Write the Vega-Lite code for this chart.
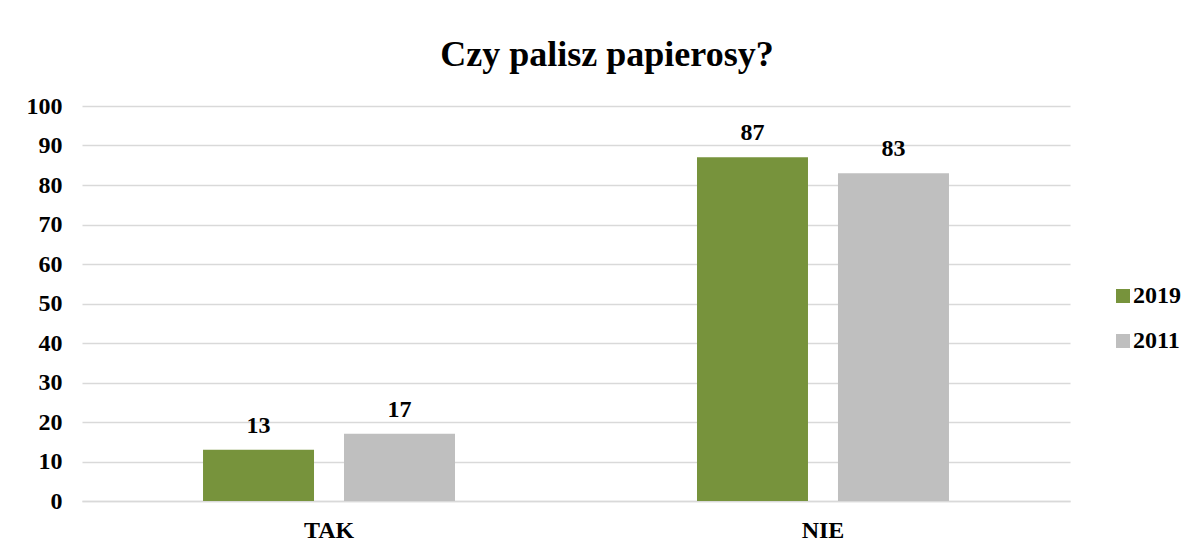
{
  "$schema": "https://vega.github.io/schema/vega-lite/v6.json",
  "width": 988,
  "height": 395,
  "autosize": {"type": "none"},
  "padding": {"left": 82, "top": 106, "right": 129, "bottom": 52},
  "background": "white",
  "title": {
    "text": "Czy palisz papierosy?",
    "font": "Liberation Serif",
    "fontSize": 36,
    "fontWeight": "bold",
    "color": "#000000",
    "anchor": "middle",
    "dx": 31,
    "offset": 20
  },
  "data": {
    "values": [
      {"odp": "TAK", "rok": "2019", "wartosc": 13},
      {"odp": "TAK", "rok": "2011", "wartosc": 17},
      {"odp": "NIE", "rok": "2019", "wartosc": 87},
      {"odp": "NIE", "rok": "2011", "wartosc": 83}
    ]
  },
  "encoding": {
    "x": {
      "field": "odp",
      "type": "nominal",
      "sort": ["TAK", "NIE"],
      "scale": {"paddingInner": 0.4899, "paddingOuter": 0.245},
      "axis": {
        "title": null,
        "labelAngle": 0,
        "labelFont": "Liberation Serif",
        "labelFontSize": 24,
        "labelFontWeight": "bold",
        "labelColor": "#000000",
        "labelPadding": 17,
        "domain": true,
        "domainColor": "#d9d9d9",
        "domainWidth": 1.5,
        "ticks": false
      }
    },
    "xOffset": {
      "field": "rok",
      "type": "nominal",
      "sort": ["2019", "2011"],
      "scale": {"paddingInner": 0.2128, "paddingOuter": 0}
    },
    "y": {
      "field": "wartosc",
      "type": "quantitative",
      "scale": {"domain": [0, 100], "nice": false},
      "axis": {
        "title": null,
        "values": [0, 10, 20, 30, 40, 50, 60, 70, 80, 90, 100],
        "labelFont": "Liberation Serif",
        "labelFontSize": 24,
        "labelFontWeight": "bold",
        "labelColor": "#000000",
        "labelPadding": 20,
        "domain": false,
        "ticks": false,
        "grid": true,
        "gridColor": "#d9d9d9",
        "gridWidth": 1.5
      }
    }
  },
  "layer": [
    {
      "mark": {"type": "bar"},
      "encoding": {
        "color": {
          "field": "rok",
          "type": "nominal",
          "sort": ["2019", "2011"],
          "scale": {"domain": ["2019", "2011"], "range": ["#77933C", "#BFBFBF"]},
          "legend": {
            "title": null,
            "orient": "none",
            "legendX": 1029,
            "legendY": 178,
            "symbolType": "square",
            "symbolSize": 196,
            "symbolStrokeWidth": 0,
            "labelFont": "Liberation Serif",
            "labelFontSize": 24,
            "labelFontWeight": "bold",
            "labelColor": "#000000",
            "labelOffset": -2,
            "rowPadding": 21
          }
        }
      }
    },
    {
      "mark": {
        "type": "text",
        "baseline": "alphabetic",
        "dy": -17,
        "font": "Liberation Serif",
        "fontSize": 24,
        "fontWeight": "bold",
        "color": "#000000"
      },
      "encoding": {
        "text": {"field": "wartosc", "type": "quantitative"}
      }
    }
  ],
  "config": {
    "view": {"stroke": null}
  }
}
